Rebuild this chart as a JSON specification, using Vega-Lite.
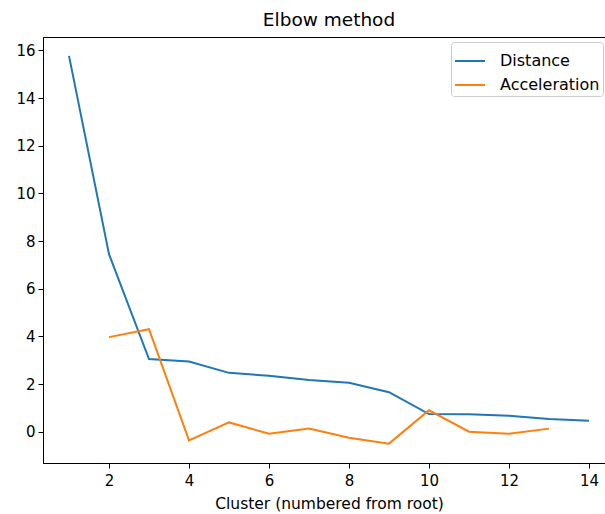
{
  "$schema": "https://vega.github.io/schema/vega-lite/v6.json",
  "autosize": {"type": "none"},
  "padding": {"left": 43, "top": 37, "right": 0, "bottom": 51},
  "width": 572,
  "height": 426,
  "title": {"text": "Elbow method", "fontSize": 18.5, "fontWeight": "normal", "font": "DejaVu Sans", "color": "#000000", "anchor": "middle", "offset": 8},
  "config": {
    "view": {"stroke": "#000000", "strokeWidth": 1},
    "font": "DejaVu Sans",
    "axis": {"grid": false, "domainColor": "#000000", "tickColor": "#000000", "tickSize": 5, "labelFontSize": 15, "labelColor": "#000000", "titleFontSize": 15.5, "titleFontWeight": "normal", "titleColor": "#000000", "labelPadding": 4}
  },
  "data": {"values": [
    {"cluster": 1, "value": 15.77, "series": "Distance"},
    {"cluster": 2, "value": 7.45, "series": "Distance"},
    {"cluster": 3, "value": 3.05, "series": "Distance"},
    {"cluster": 4, "value": 2.95, "series": "Distance"},
    {"cluster": 5, "value": 2.47, "series": "Distance"},
    {"cluster": 6, "value": 2.35, "series": "Distance"},
    {"cluster": 7, "value": 2.17, "series": "Distance"},
    {"cluster": 8, "value": 2.05, "series": "Distance"},
    {"cluster": 9, "value": 1.66, "series": "Distance"},
    {"cluster": 10, "value": 0.74, "series": "Distance"},
    {"cluster": 11, "value": 0.73, "series": "Distance"},
    {"cluster": 12, "value": 0.67, "series": "Distance"},
    {"cluster": 13, "value": 0.53, "series": "Distance"},
    {"cluster": 14, "value": 0.46, "series": "Distance"},
    {"cluster": 2, "value": 3.97, "series": "Acceleration"},
    {"cluster": 3, "value": 4.3, "series": "Acceleration"},
    {"cluster": 4, "value": -0.36, "series": "Acceleration"},
    {"cluster": 5, "value": 0.39, "series": "Acceleration"},
    {"cluster": 6, "value": -0.08, "series": "Acceleration"},
    {"cluster": 7, "value": 0.13, "series": "Acceleration"},
    {"cluster": 8, "value": -0.25, "series": "Acceleration"},
    {"cluster": 9, "value": -0.5, "series": "Acceleration"},
    {"cluster": 10, "value": 0.9, "series": "Acceleration"},
    {"cluster": 11, "value": 0.0, "series": "Acceleration"},
    {"cluster": 12, "value": -0.08, "series": "Acceleration"},
    {"cluster": 13, "value": 0.13, "series": "Acceleration"}
  ]},
  "mark": {"type": "line", "strokeWidth": 2},
  "encoding": {
    "x": {"field": "cluster", "type": "quantitative", "title": "Cluster (numbered from root)",
      "scale": {"domain": [0.35, 14.65], "nice": false, "zero": false},
      "axis": {"values": [2, 4, 6, 8, 10, 12, 14], "titlePadding": 8, "labelPadding": 5}},
    "y": {"field": "value", "type": "quantitative", "title": null,
      "scale": {"domain": [-1.3125, 16.5625], "nice": false, "zero": false},
      "axis": {"values": [0, 2, 4, 6, 8, 10, 12, 14, 16], "labelPadding": 3}},
    "color": {"field": "series", "type": "nominal", "sort": ["Distance", "Acceleration"],
      "scale": {"domain": ["Distance", "Acceleration"], "range": ["#1f77b4", "#ff7f0e"]},
      "legend": {"title": null, "orient": "none", "legendX": 408, "legendY": 5,
        "symbolType": "stroke", "symbolSize": 900, "symbolStrokeWidth": 2,
        "labelFontSize": 16, "labelColor": "#000000", "labelOffset": 14,
        "padding": 3, "rowPadding": 0, "strokeColor": "#cccccc", "fillColor": "#ffffff", "cornerRadius": 3}}
  }
}
